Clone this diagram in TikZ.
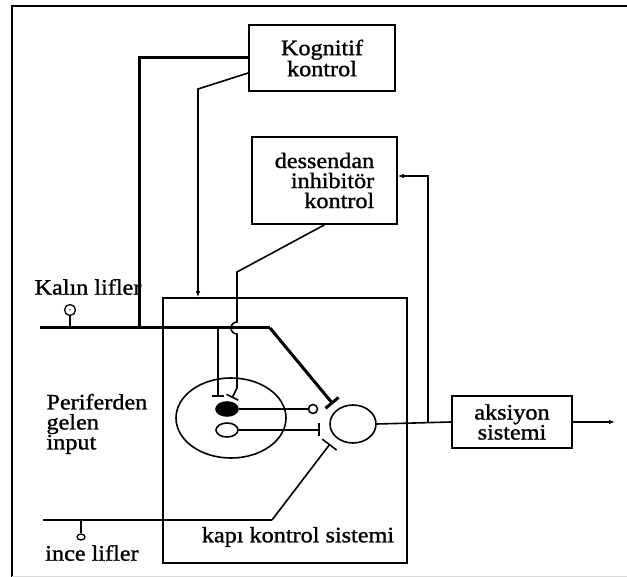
\documentclass[tikz,border=0pt]{standalone}
\usepackage{fontspec}
\setmainfont[FakeStretch=1.1,FakeBold=1.2]{Liberation Serif}
\usetikzlibrary{arrows.meta,calc,positioning,shapes.geometric}
\tikzset{
    blok/.style={
        draw, rectangle, line width=1.6pt,
        inner sep=0pt, align=center, text=black
    },
    hucre/.style={
        draw, ellipse, line width=1.6pt, inner sep=0pt
    }
}

\begin{document}
\begin{tikzpicture}[x=1pt, y=-1pt,
        yazi/.style={font=\fontsize{22}{20}\selectfont},
        kalin/.style={line width=3pt},
        ince/.style={line width=1.6pt},
        ok/.style={-{Latex[length=6pt,width=4.5pt]}},
        ket/.style={-{Bar[width=#1]}}
      ]
    \useasboundingbox (0,0) rectangle (627,577);
    \draw[ince] (627,6) -- (12,6) -- (12,577);
    \draw[gray!30] (12,576) -- (627,576);

    % kutular
    \node[blok,yazi,minimum width=146pt,minimum height=66pt] (kog) at (322,58) {Kognitif\\kontrol};
    \node[blok,yazi,minimum width=145pt,minimum height=87pt,align=right] (des) at (324.5,180.5) {dessendan\\inhibitör\\kontrol};
    \node[blok,minimum width=244pt,minimum height=265pt] (kap) at (285,430.5) {};
    \node[blok,yazi,minimum width=120pt,minimum height=52pt] (aks) at (512,422) {aksiyon\\sistemi};

    % hucreler
    \node[hucre,minimum width=110pt,minimum height=80pt] (buyuk) at (231,418) {};
    \node[hucre,fill=black,minimum width=22pt,minimum height=14pt] (dol) at (227,409) {};
    \node[hucre,minimum width=22pt,minimum height=14pt] (bos) at (227,430) {};
    \node[hucre,minimum size=9pt] (kc) at (313,409) {};
    \node[hucre,minimum width=46pt,minimum height=38pt] (gec) at (353,424) {};

    % liflerin ucu
    \node[circle,draw,line width=1.3pt,minimum size=11pt,inner sep=0pt] (kucuk) at (70,310) {};
    \node[circle,fill=black,minimum size=1.5pt,inner sep=0pt] (nokta) at (kucuk) {};
    \node[hucre,line width=1.3pt,minimum width=8pt,minimum height=6pt] (uc) at (81,537) {};

    % yazilar
    \node[yazi] (kalinl) at (88,287) {Kalın lifler};
    \node[yazi,anchor=west,align=left] (per) at (43,424) {Periferden\\gelen\\input};
    \node[yazi] (incel) at (92,553) {ince lifler};
    \node[yazi] (kapl) at (298,537) {kapı kontrol sistemi};

    \coordinate (kl) at (40,328);
    \coordinate (kk) at (270,328);
    \coordinate (kb) at (139,328);
    \coordinate (k1) at (198,89);
    \coordinate (t1) at (320,430);
    \coordinate (il) at (43,520);
    \coordinate (ik) at (272,520);
    \coordinate (g1) at (428,422);
    \coordinate (g2) at (428,176);
    \coordinate (cikis) at (615,422);

    % baglantilar
    \draw[kalin] (kl) -- (kk);
    \draw[kalin,ket=17pt] (kk) -- (333,404);
    \draw[kalin] (kog.west) -- (kog.west -| kb) -- (kb);
    \draw[ince,ok] ($(kog.west)+(0,15)$) -- (k1) -- (k1 |- kap.north);
    \draw[ince] (des.south) -- (237,272) -- (237,322) arc(270:90:6) -- (237,388);
    \draw[ince,ket=13pt] (237,388) -- (232,398);
    \draw[ince,ket=12pt] (218,328) -- (218,397);
    \draw[ince] (dol.east) -- (kc.west);
    \draw[ince,ket=13pt] (bos.east) -- (t1);
    \draw[ince] (il) -- (ik);
    \draw[ince,ket=18pt] (ik) -- (330,444);
    \draw[ince] (gec.east) -- (aks.west);
    \draw[ince,ok] (g1) -- (g2) -- (g2 -| des.east);
    \draw[ince,ok] (aks.east) -- (cikis);
    \draw[ince] (kucuk.south) -- (kucuk.south |- kl);
    \draw[ince] (uc.north) -- (uc.north |- il);

\end{tikzpicture}
\end{document}
